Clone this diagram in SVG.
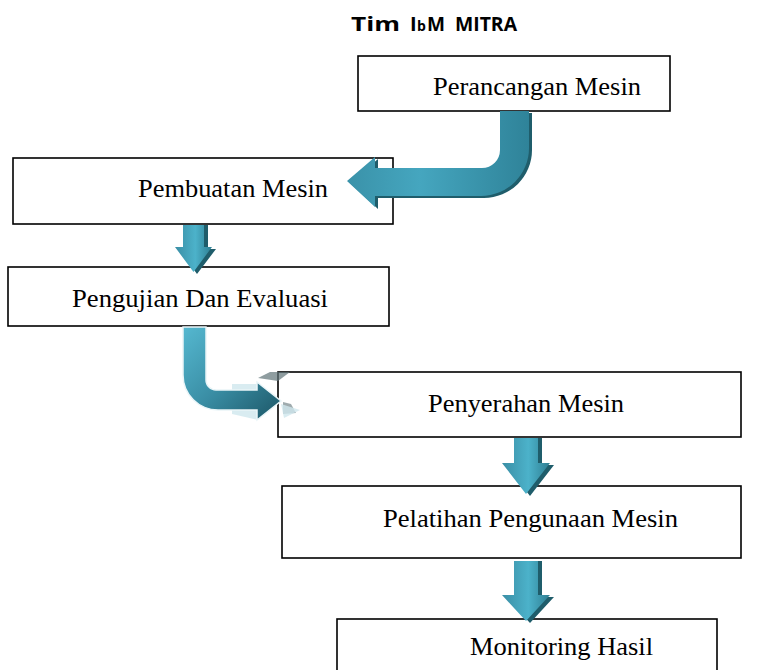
<svg xmlns="http://www.w3.org/2000/svg" width="767" height="670" viewBox="0 0 767 670">
<style>
.box{fill:#ffffff;stroke:#000000;stroke-width:1.6}
.lbl{font-family:"Liberation Serif","Times New Roman",serif;font-size:25px;fill:#000000}
.ttl{font-family:"Open Sans","Liberation Sans",Arial,sans-serif;font-weight:bold;fill:#000000}
.shadow{fill:#1f5d6b}
</style>
<defs>
<linearGradient id="gv" x1="0" y1="0" x2="1" y2="0">
<stop offset="0" stop-color="#3a8ea5"/>
<stop offset="0.55" stop-color="#4cb2ca"/>
<stop offset="1" stop-color="#2e7e92"/>
</linearGradient>
<linearGradient id="gb1" x1="0" y1="0" x2="1" y2="0">
<stop offset="0" stop-color="#3a92a9"/>
<stop offset="0.4" stop-color="#45a6bf"/>
<stop offset="1" stop-color="#2f8399"/>
</linearGradient>
<linearGradient id="gb2" x1="0" y1="0" x2="1" y2="1">
<stop offset="0" stop-color="#55b8d0"/>
<stop offset="0.5" stop-color="#3a8ea5"/>
<stop offset="1" stop-color="#1c5666"/>
</linearGradient>
</defs>

<g id="title">
<text class="ttl" x="351" y="31" font-size="20" textLength="49" lengthAdjust="spacingAndGlyphs">Tim</text>
<text class="ttl" x="410" y="31" font-size="20">I</text>
<text class="ttl" x="417" y="31" font-size="14">b</text>
<text class="ttl" x="427" y="31" font-size="20" textLength="18" lengthAdjust="spacingAndGlyphs">M</text>
<text class="ttl" x="455" y="31" font-size="20" textLength="62" lengthAdjust="spacingAndGlyphs">MITRA</text>
</g>

<g id="node-perancangan">
<rect class="box" x="358" y="56" width="312" height="55"/>
<text class="lbl" x="433" y="95" textLength="208" lengthAdjust="spacingAndGlyphs">Perancangan Mesin</text>
</g>

<g id="node-pembuatan">
<rect class="box" x="13" y="158" width="380" height="66"/>
<text class="lbl" x="138" y="197" textLength="190" lengthAdjust="spacingAndGlyphs">Pembuatan Mesin</text>
</g>

<g id="node-pengujian">
<rect class="box" x="8" y="267" width="381" height="59"/>
<text class="lbl" x="72" y="307" textLength="256" lengthAdjust="spacingAndGlyphs">Pengujian Dan Evaluasi</text>
</g>

<g id="node-penyerahan">
<rect class="box" x="278" y="372" width="463" height="65"/>
<text class="lbl" x="428" y="412" textLength="196" lengthAdjust="spacingAndGlyphs">Penyerahan Mesin</text>
</g>

<g id="node-pelatihan">
<rect class="box" x="282" y="486" width="459" height="72"/>
<text class="lbl" x="383" y="527" textLength="295" lengthAdjust="spacingAndGlyphs">Pelatihan Pengunaan Mesin</text>
</g>

<g id="node-monitoring">
<rect class="box" x="337" y="619" width="380" height="60"/>
<text class="lbl" x="470" y="655" textLength="183" lengthAdjust="spacingAndGlyphs">Monitoring Hasil</text>
</g>

<g id="connectors">
<!-- bent arrow: Perancangan -> Pembuatan -->
<path class="shadow" d="M503,111 L503,150 A18,18 0 0 1 485,168 L378,168 L378,157 L350,181 L378,207 L378,196 L484,196 A48,48 0 0 0 532,148 L532,111 Z" transform="translate(0,2)"/>
<path fill="url(#gb1)" d="M500,111 L500,150 A18,18 0 0 1 482,168 L375,168 L375,157 L347,181 L375,207 L375,196 L481,196 A48,48 0 0 0 529,148 L529,111 Z"/>

<!-- down arrow: Pembuatan -> Pengujian -->
<path class="shadow" d="M187,225 L208,225 L208,249 L216,249 L197,274 L179,249 L187,249 Z"/>
<path fill="url(#gv)" d="M183,225 L204,225 L204,247 L212,247 L193.5,272 L175,247 L183,247 Z"/>

<!-- bent arrow: Pengujian -> Penyerahan -->
<polygon points="232,384 258,384 258,420 232,414" fill="#cfe7ee" opacity="0.8"/>
<polygon points="258,378 270,372 290,372 278,381" fill="#5f7378" opacity="0.7"/>
<polygon points="283,402 291,404 296,413 283,414" fill="#5f7378" opacity="0.6"/>
<polygon points="281,404 300,410 284,418" fill="#cfe7ee" opacity="0.8"/>
<path fill="url(#gb2)" stroke="#eaf5f8" stroke-width="1.5" d="M183,327 L183,375 A35,35 0 0 0 218,410 L257,410 L257,420 L281,401 L257,382 L257,390 L216,390 A10,10 0 0 1 206,380 L206,327 Z"/>

<!-- down arrow: Penyerahan -> Pelatihan -->
<path class="shadow" d="M518,438 L542,438 L542,465 L554,465 L530,496 L506,465 L518,465 Z"/>
<path fill="url(#gv)" d="M514,438 L538,438 L538,463 L550,463 L526,494 L502,463 L514,463 Z"/>

<!-- down arrow: Pelatihan -> Monitoring -->
<path class="shadow" d="M518,561 L542,561 L542,597 L554,597 L530,623 L506,597 L518,597 Z"/>
<path fill="url(#gv)" d="M514,561 L538,561 L538,595 L550,595 L526,621 L502,595 L514,595 Z"/>
</g>
</svg>
